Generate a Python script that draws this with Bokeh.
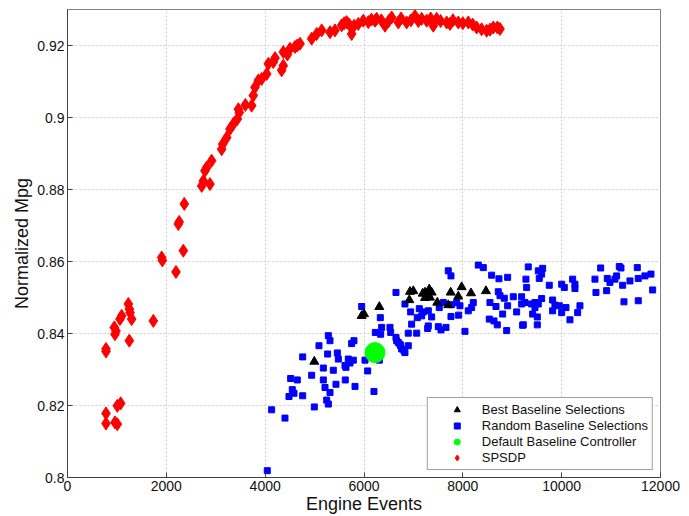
from bokeh.plotting import figure
from bokeh.models import (Range1d, Legend, LegendItem, FixedTicker,
                          CustomJSTickFormatter)
from bokeh.embed import file_html
from bokeh.resources import INLINE

FONT = "Liberation Sans"

x_ticks = [0, 2000, 4000, 6000, 8000, 10000, 12000]
y_ticks = [0.8, 0.82, 0.84, 0.86, 0.88, 0.9, 0.92]

# SPSDP
spsdp_x = [779, 779, 947, 981, 961, 1062, 1096, 1231, 1251, 1265, 1298, 1251, 1737,
           779, 779, 961, 1008, 1008, 1076, 1906, 1920, 2195, 2344, 2243, 2260, 2364,
           2715, 2749, 2782, 2816, 2917, 2883, 3120, 3140, 3221, 3288, 3356, 3437, 3477,
           3457, 3600, 3727, 3760, 3794, 3862, 3929, 4031, 4064, 4165, 4200, 4334, 4367,
           4367, 4450, 4502, 4603, 4650, 4705, 4941, 5042, 5144, 5312, 5413, 5548, 5600,
           5649, 5700, 5750, 5800, 5885, 5986, 6087, 6150, 6222, 6256, 6350, 6425, 6500,
           6560, 6694, 6750, 6863, 6950, 7031, 7100, 7167, 7268, 7350, 7402, 7470, 7550,
           7673, 7740, 7800, 7908, 8000, 8110, 8200, 8280, 8380, 8482, 8550, 8617, 8700,
           8752]
spsdp_y = [0.8357, 0.8350, 0.8417, 0.8407, 0.8398, 0.8440, 0.8449, 0.8482, 0.8468, 0.8458,
           0.8440, 0.8380, 0.8435, 0.8178, 0.8150, 0.8153, 0.8148, 0.8199, 0.8206, 0.8611,
           0.8603, 0.8571, 0.8630, 0.8704, 0.8710, 0.8760, 0.8810, 0.8824, 0.8852, 0.8861,
           0.8880, 0.8815, 0.8912, 0.8926, 0.8944, 0.8968, 0.8982, 0.8996, 0.9014, 0.9023,
           0.9035, 0.9033, 0.9061, 0.9084, 0.9103, 0.9107, 0.9121, 0.9149, 0.9154, 0.9165,
           0.9131, 0.9144, 0.9182, 0.9175, 0.9191, 0.9196, 0.9200, 0.9205, 0.9219, 0.9232,
           0.9242, 0.9237, 0.9242, 0.9256, 0.9262, 0.9265, 0.9258, 0.9232, 0.9255, 0.9260,
           0.9269, 0.9265, 0.9272, 0.9269, 0.9274, 0.9270, 0.9255, 0.9268, 0.9278, 0.9264,
           0.9275, 0.9264, 0.9270, 0.9282, 0.9268, 0.9274, 0.9269, 0.9275, 0.9255, 0.9274,
           0.9268, 0.9264, 0.9260, 0.9270, 0.9264, 0.9262, 0.9264, 0.9258, 0.9250, 0.9245,
           0.9241, 0.9244, 0.9250, 0.9250, 0.9246]

# Random Baseline Selections
rand_x = [4043, 4131, 4401, 4482, 4549, 4516, 4583, 4650, 4759, 4759, 4941, 4994, 5089,
          5177, 5177, 5211, 5245, 5278, 5264, 5278, 5312, 5312, 5379, 5433, 5460, 5480,
          5615, 5621, 5635, 5682, 5716, 5750, 5797, 5784, 5818, 5953, 6020, 6074, 6202,
          6229, 6337, 6330, 6310, 6526, 6540, 6647, 6661, 6728, 6762, 6829, 6896, 6829,
          6647, 7705, 7760, 8312, 8414, 8583, 8731, 8907, 8717, 8752, 8839, 9021, 9190,
          9277, 9291, 8549, 8671, 8907, 9190, 8806, 9089, 8535, 8630, 8697, 8887, 9210,
          8211, 8178, 8110, 7915, 7760, 7942, 7875, 8043, 7659, 7558, 7503, 7301, 7288,
          7066, 6896, 6964, 7369, 7078, 7167, 6944, 7119, 7200, 7301, 7523, 7604, 7774,
          6694, 6742, 6809, 6357, 9324, 9527, 9615, 9595, 9547, 9749, 10000, 10053, 10222,
          10269, 10269, 9257, 9392, 9460, 9527, 9595, 9460, 9413, 9507, 9223, 9507, 9817,
          9864, 9952, 9817, 10000, 10087, 10168, 10324, 10370, 10789, 10674, 10694, 10923,
          10910, 10977, 11078, 11113, 11166, 11200, 11234, 11261, 11382, 11530, 11550,
          11550, 11685, 11807, 11841]
rand_y = [0.8019, 0.8188, 0.8165, 0.8225, 0.8244, 0.8275, 0.8234, 0.8271, 0.8227, 0.8335,
          0.8284, 0.8196, 0.8366, 0.8304, 0.8271, 0.8250, 0.8215, 0.8204, 0.8343, 0.8394,
          0.8380, 0.8236, 0.8298, 0.8259, 0.8346, 0.8329, 0.8311, 0.8271, 0.8306, 0.8329,
          0.8318, 0.8372, 0.8380, 0.8326, 0.8253, 0.8475, 0.8326, 0.8296, 0.8239, 0.8403,
          0.8398, 0.8444, 0.8326, 0.8417, 0.8403, 0.8389, 0.8380, 0.8370, 0.8357, 0.8347,
          0.8366, 0.8482, 0.8514, 0.8574, 0.8560, 0.8590, 0.8583, 0.8562, 0.8552, 0.8556,
          0.8516, 0.8505, 0.8498, 0.8502, 0.8502, 0.8551, 0.8528, 0.8486, 0.8475, 0.8477,
          0.8482, 0.8454, 0.8460, 0.8440, 0.8435, 0.8424, 0.8408, 0.8423, 0.8486, 0.8472,
          0.8463, 0.8451, 0.8447, 0.8477, 0.8486, 0.8406, 0.8417, 0.8410, 0.8419, 0.8421,
          0.8414, 0.8401, 0.8401, 0.8426, 0.8446, 0.8444, 0.8449, 0.8460, 0.8469, 0.8460,
          0.8463, 0.8472, 0.8486, 0.8480, 0.8375, 0.8366, 0.8352, 0.8417, 0.8585, 0.8574,
          0.8581, 0.8565, 0.8553, 0.8534, 0.8537, 0.8528, 0.8551, 0.8537, 0.8525, 0.8486,
          0.8482, 0.8486, 0.8482, 0.8497, 0.8472, 0.8454, 0.8446, 0.8424, 0.8424, 0.8493,
          0.8479, 0.8477, 0.8463, 0.8458, 0.8472, 0.8438, 0.8458, 0.8477, 0.8582, 0.8551,
          0.8514, 0.8553, 0.8519, 0.8542, 0.8551, 0.8560, 0.8586, 0.8582, 0.8534, 0.8488,
          0.8546, 0.8583, 0.8553, 0.8491, 0.8560, 0.8565, 0.8521]

# Best Baseline Selections
best_x = [4994, 5953, 6000, 6310, 6930, 6997, 6917, 7188, 7234, 7321, 7369, 7234, 7335,
          7483, 7705, 7754, 7908, 7976, 8165, 8468]
best_y = [0.8322, 0.8449, 0.8454, 0.8474, 0.8516, 0.8518, 0.8493, 0.8511, 0.8514, 0.8523,
          0.8514, 0.8499, 0.8500, 0.8486, 0.8479, 0.8514, 0.8503, 0.8529, 0.8512, 0.8518]

# Default Baseline Controller
default_x = [6222]
default_y = [0.8347]

p = figure(width=689, height=516, output_backend="svg", toolbar_location=None,
           x_range=Range1d(0, 12000), y_range=Range1d(0.8, 0.93),
           min_border_left=67, min_border_right=29, min_border_top=9, min_border_bottom=0,
           x_axis_label="Engine Events", y_axis_label="Normalized Mpg",
           background_fill_color="white", border_fill_color="white")
p.outline_line_color = "#808080"
p.outline_line_width = 1

xa = p.xaxis[0]
ya = p.yaxis[0]
xa.ticker = FixedTicker(ticks=x_ticks)
ya.ticker = FixedTicker(ticks=y_ticks)
ya.formatter = CustomJSTickFormatter(code="return tick.toFixed(2).replace(/0$/, '');")
for ax in (xa, ya):
    ax.major_tick_in = 5
    ax.major_tick_out = 0
    ax.minor_tick_line_color = None
    ax.axis_line_color = "#404040"
    ax.major_tick_line_color = "#404040"
    ax.major_label_text_font = FONT
    ax.major_label_text_font_size = "14px"
    ax.major_label_text_color = "#111111"
    ax.major_label_standoff = 3
    ax.axis_label_text_font = FONT
    ax.axis_label_text_font_size = "18px"
    ax.axis_label_text_font_style = "normal"
    ax.axis_label_text_color = "#111111"
xa.axis_label_standoff = 0
ya.axis_label_standoff = 2

for g, t in ((p.xgrid[0], x_ticks), (p.ygrid[0], y_ticks)):
    g.ticker = FixedTicker(ticks=t)
    g.grid_line_color = "#cfcfcf"
    g.grid_line_dash = "2 2"
    g.grid_line_width = 1

r_rand = p.scatter(rand_x, rand_y, marker="square", size=6, fill_color="#0000ff",
                   line_color="#0000ff")
r_best = p.scatter(best_x, best_y, marker="triangle", size=9, fill_color="#000000",
                   line_color="#000000")
r_def = p.scatter(default_x, default_y, marker="circle", size=20, fill_color="#00ff00",
                  line_color="#00ff00")
r_sp = p.scatter(spsdp_x, spsdp_y, marker="diamond", size=13, fill_color="#ff0000",
                 line_color="#ff0000")

legend = Legend(items=[
    LegendItem(label="Best Baseline Selections", renderers=[r_best]),
    LegendItem(label="Random Baseline Selections", renderers=[r_rand]),
    LegendItem(label="Default Baseline Controller", renderers=[r_def]),
    LegendItem(label="SPSDP", renderers=[r_sp]),
], location="bottom_right")
legend.margin = 7
legend.padding = 4
legend.spacing = 1
legend.glyph_height = 15
legend.glyph_width = 50
legend.label_height = 15
legend.label_standoff = 0
legend.label_text_font = FONT
legend.label_text_font_size = "13px"
legend.label_text_color = "#111111"
legend.border_line_color = "#404040"
legend.border_line_width = 1
legend.background_fill_color = "white"
legend.background_fill_alpha = 1
p.add_layout(legend)

open("out.html", "w").write(file_html(p, INLINE))
